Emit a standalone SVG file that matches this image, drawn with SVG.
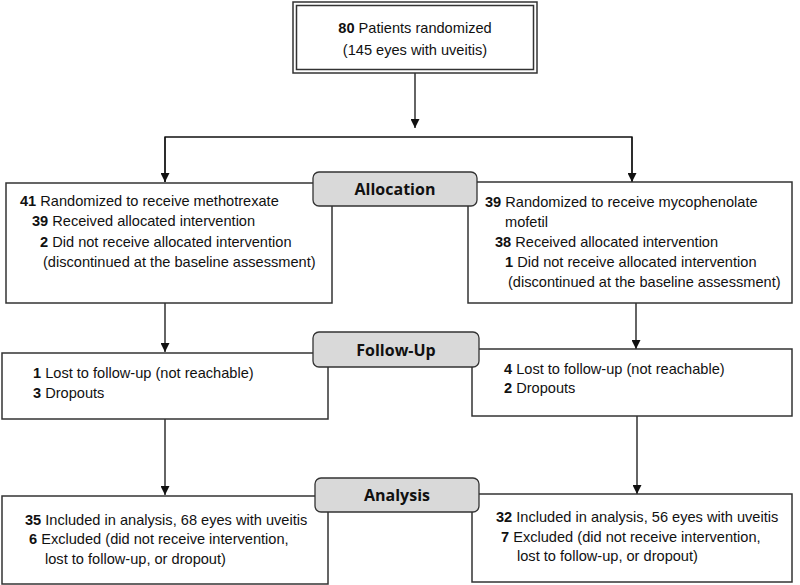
<svg xmlns="http://www.w3.org/2000/svg" width="800" height="585" viewBox="0 0 800 585">
<defs>
<style>
.box{fill:#fff;stroke:#333;stroke-width:1.5}
.lbl{fill:#d9d9d9;stroke:#333;stroke-width:1.3}
.ln{fill:none;stroke:#111;stroke-width:1.3}
.t{font-family:"Liberation Sans",Arial,sans-serif;font-size:14.6px;fill:#111}
.b{font-weight:bold}
.h{font-family:"Open Sans","Liberation Sans",sans-serif;font-size:16px;font-weight:bold;fill:#111;text-anchor:middle}
</style>
<marker id="ah" viewBox="0 0 10 10" refX="10" refY="5" markerWidth="9" markerHeight="9" markerUnits="userSpaceOnUse" orient="auto">
<path d="M0,0 L10,5 L0,10 z" fill="#111"/>
</marker>
</defs>
<rect width="800" height="585" fill="#fff"/>
<g id="connectors">
<path class="ln" d="M415,73 V128" marker-end="url(#ah)"/>
<path class="ln" d="M165,182 V137 H632 V182" />
<path class="ln" d="M165,137 V182" marker-end="url(#ah)"/>
<path class="ln" d="M632,137 V182" marker-end="url(#ah)"/>
<path class="ln" d="M165,303 V352" marker-end="url(#ah)"/>
<path class="ln" d="M636,303 V349" marker-end="url(#ah)"/>
<path class="ln" d="M165,419 V495" marker-end="url(#ah)"/>
<path class="ln" d="M637,416 V494" marker-end="url(#ah)"/>
</g>
<g id="top">
<rect class="box" x="293" y="2" width="244" height="71"/>
<rect class="box" x="296.5" y="5.5" width="237" height="64"/>
<text class="t" x="415" y="33" text-anchor="middle"><tspan class="b">80</tspan> Patients randomized</text>
<text class="t" x="415" y="55" text-anchor="middle">(145 eyes with uveitis)</text>
</g>
<g id="alloc-left">
<rect class="box" x="6" y="183" width="326" height="120"/>
<text class="t" x="20" y="206"><tspan class="b">41</tspan> Randomized to receive methotrexate</text>
<text class="t" x="32" y="226"><tspan class="b">39</tspan> Received allocated intervention</text>
<text class="t" x="40" y="247"><tspan class="b">2</tspan> Did not receive allocated intervention</text>
<text class="t" x="43" y="267">(discontinued at the baseline assessment)</text>
</g>
<g id="alloc-right">
<rect class="box" x="468" y="182" width="324" height="121"/>
<text class="t" x="485" y="207"><tspan class="b">39</tspan> Randomized to receive mycophenolate</text>
<text class="t" x="505" y="227">mofetil</text>
<text class="t" x="495" y="247"><tspan class="b">38</tspan> Received allocated intervention</text>
<text class="t" x="505" y="267"><tspan class="b">1</tspan> Did not receive allocated intervention</text>
<text class="t" x="508" y="287">(discontinued at the baseline assessment)</text>
</g>
<g id="label-allocation">
<rect class="lbl" x="313" y="172" width="164" height="34" rx="6"/>
<text class="h" x="395" y="195">Allocation</text>
</g>
<g id="follow-left">
<rect class="box" x="2" y="353" width="326" height="66"/>
<text class="t" x="33" y="378"><tspan class="b">1</tspan> Lost to follow-up (not reachable)</text>
<text class="t" x="33" y="398"><tspan class="b">3</tspan> Dropouts</text>
</g>
<g id="follow-right">
<rect class="box" x="472" y="349" width="320" height="67"/>
<text class="t" x="504" y="374"><tspan class="b">4</tspan> Lost to follow-up (not reachable)</text>
<text class="t" x="504" y="393"><tspan class="b">2</tspan> Dropouts</text>
</g>
<g id="label-followup">
<rect class="lbl" x="313" y="332" width="166" height="35" rx="6"/>
<text class="h" x="396" y="356">Follow-Up</text>
</g>
<g id="analysis-left">
<rect class="box" x="2" y="496" width="326" height="88"/>
<text class="t" x="25" y="525"><tspan class="b">35</tspan> Included in analysis, 68 eyes with uveitis</text>
<text class="t" x="29" y="544"><tspan class="b">6</tspan> Excluded (did not receive intervention,</text>
<text class="t" x="45" y="564">lost to follow-up, or dropout)</text>
</g>
<g id="analysis-right">
<rect class="box" x="472" y="494" width="320" height="88"/>
<text class="t" x="496" y="522"><tspan class="b">32</tspan> Included in analysis, 56 eyes with uveitis</text>
<text class="t" x="501" y="542"><tspan class="b">7</tspan> Excluded (did not receive intervention,</text>
<text class="t" x="517" y="561">lost to follow-up, or dropout)</text>
</g>
<g id="label-analysis">
<rect class="lbl" x="315" y="478" width="164" height="34" rx="6"/>
<text class="h" x="397" y="501">Analysis</text>
</g>
</svg>
